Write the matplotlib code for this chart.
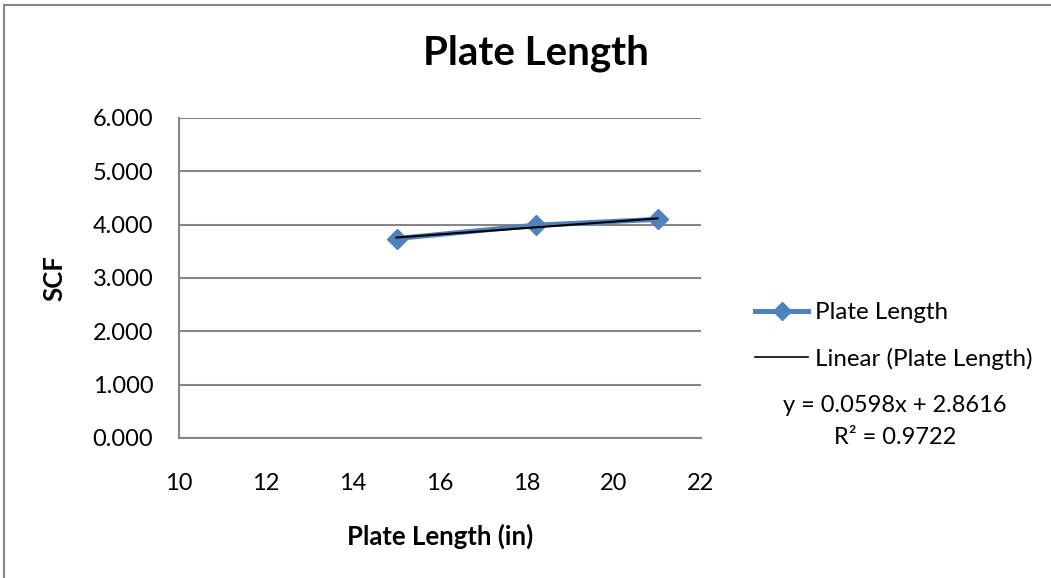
import matplotlib
matplotlib.use("Agg")
import matplotlib.pyplot as plt
from matplotlib.lines import Line2D
from matplotlib.patches import Rectangle
import numpy as np

plt.rcParams['font.family'] = ['Lato', 'DejaVu Sans']

# Data
plate_length = [15, 18.2, 21]
scf = [3.74, 3.99, 4.10]
slope, intercept = 0.0598, 2.8616
r_squared = 0.9722

x_ticks = [10, 12, 14, 16, 18, 20, 22]
y_ticks = [0, 1, 2, 3, 4, 5, 6]

W, H = 1051, 578
fig = plt.figure(figsize=(W / 100, H / 100), dpi=100)
fig.patch.set_facecolor('white')

# Chart frame
fig.patches.append(Rectangle((4 / W, -0.05), 1.2, (H - 5) / H + 0.05,
                             transform=fig.transFigure, fill=False,
                             edgecolor='#868686', linewidth=1.5))

ax = fig.add_axes([179 / W, (H - 438) / H, (701 - 179) / W, (438 - 118) / H])
ax.set_xlim(10, 22)
ax.set_ylim(0, 6)
ax.set_xticks(x_ticks)
ax.set_yticks(y_ticks)
ax.set_yticklabels([f"{v:.3f}" for v in y_ticks])
ax.tick_params(length=0, labelsize=17)
ax.tick_params(axis='y', pad=18.5)
ax.tick_params(axis='x', pad=25)
ax.grid(axis='y', color='#868686', linewidth=1.5)
ax.set_axisbelow(True)
for side in ['top', 'right']:
    ax.spines[side].set_visible(False)
for side in ['left', 'bottom']:
    ax.spines[side].set_color('#868686')
    ax.spines[side].set_linewidth(1.5)

blue = '#4F81BD'
ax.plot(plate_length, scf, color=blue, linewidth=3.6, marker='D',
        markersize=10, markeredgecolor=blue, zorder=3)
tx = np.array([plate_length[0], plate_length[-1]])
ax.plot(tx, slope * tx + intercept, color='black', linewidth=1.5, zorder=4)

fig.text(536 / W, 1 - 64 / H, "Plate Length", fontsize=29, fontweight='bold',
         ha='center', va='baseline')
ax.set_xlabel("Plate Length (in)", fontsize=18.5, fontweight='bold')
ax.xaxis.set_label_coords(0.5, (438 - 524) / 320)
ax.set_ylabel("SCF", fontsize=18.5, fontweight='bold')
ax.yaxis.set_label_coords((66 - 179) / 522, 0.5)

handles = [
    Line2D([], [], color=blue, linewidth=3.6, marker='D', markersize=9,
           markeredgecolor=blue),
    Line2D([], [], color='black', linewidth=1.2),
]
fig.legend(handles, ["Plate Length", "Linear (Plate Length)"],
           loc='center left', bbox_to_anchor=(755 / W, 1 - 336 / H),
           frameon=False, fontsize=17.4, handlelength=2.2, handletextpad=0.3,
           labelspacing=1.0, borderpad=0, borderaxespad=0)

fig.text(895 / W, 1 - 405 / H, f"y = {slope}x + {intercept}",
         ha='center', va='center', fontsize=17)
fig.text(895 / W, 1 - 438 / H, f"R² = {r_squared}",
         ha='center', va='center', fontsize=17)

fig.savefig("out.png", dpi=100)
